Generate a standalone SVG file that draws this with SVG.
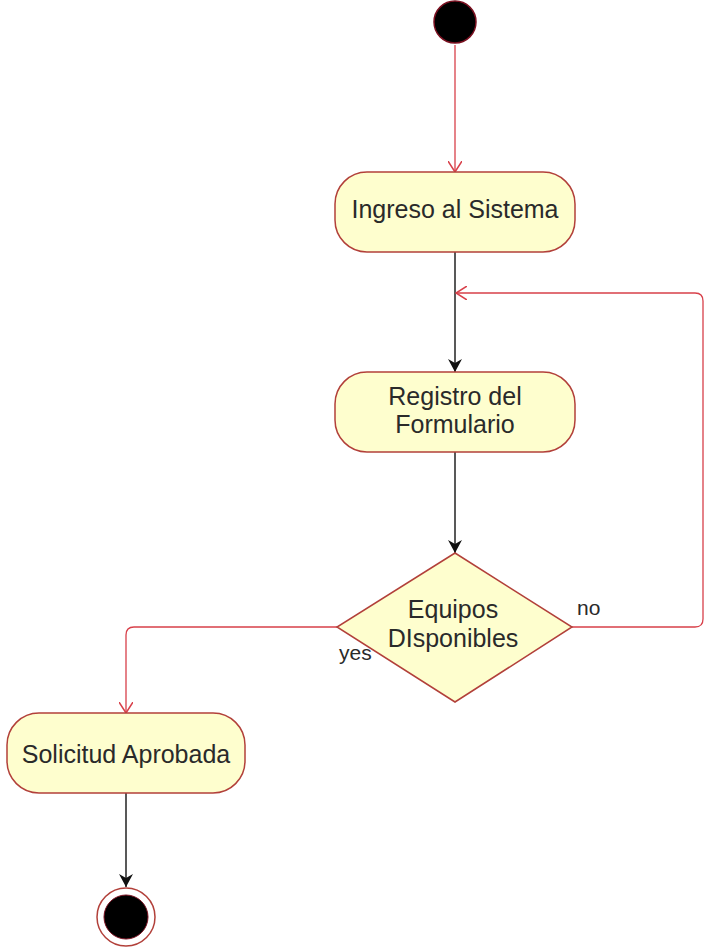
<svg xmlns="http://www.w3.org/2000/svg" width="705" height="951" viewBox="0 0 705 951">
<style>
.node{fill:#fefece;stroke:#b2403a;stroke-width:1.5}
.t{font-family:"Liberation Sans",Arial,sans-serif;font-size:25px;fill:#2a2a2a;text-anchor:middle}
.lbl{font-family:"Liberation Sans",Arial,sans-serif;font-size:21px;fill:#2a2a2a}
.red{fill:none;stroke:#d8404a;stroke-width:1.3}
.blk{fill:none;stroke:#222;stroke-width:1.5}
</style>
<defs>
<marker id="open" markerWidth="12" markerHeight="14" refX="11" refY="7" orient="auto" markerUnits="userSpaceOnUse">
<path d="M0,0 L11,7 L0,14" fill="none" stroke="#d8404a" stroke-width="1.5"/>
</marker>
<marker id="fill" markerWidth="14" markerHeight="14" refX="13" refY="7" orient="auto" markerUnits="userSpaceOnUse">
<path d="M0,0 L13,7 L0,14 L4,7 Z" fill="#111"/>
</marker>
</defs>
<g id="connectors">
<line class="red" x1="455" y1="45" x2="455" y2="172" marker-end="url(#open)"/>
<line class="blk" x1="455" y1="252" x2="455" y2="372" marker-end="url(#fill)"/>
<line class="blk" x1="455" y1="452" x2="455" y2="553" marker-end="url(#fill)"/>
<path class="red" d="M572,627 H695 Q703,627 703,619 V301 Q703,293 695,293 H456" marker-end="url(#open)"/>
<path class="red" d="M337,627 H134 Q126,627 126,635 V713" marker-end="url(#open)"/>
<line class="blk" x1="126" y1="793" x2="126" y2="887" marker-end="url(#fill)"/>
<text class="lbl" x="577" y="615">no</text>
<text class="lbl" x="339" y="660">yes</text>
</g>
<g id="start">
<circle cx="455" cy="22" r="21" fill="#000" stroke="#7a1020" stroke-width="1.5"/>
</g>
<g id="ingreso">
<rect class="node" x="335" y="172" width="240" height="80" rx="32"/>
<text class="t" x="455" y="218">Ingreso al Sistema</text>
</g>
<g id="registro">
<rect class="node" x="335" y="372" width="240" height="80" rx="32"/>
<text class="t" x="455" y="405">Registro del</text>
<text class="t" x="455" y="433">Formulario</text>
</g>
<g id="decision">
<polygon class="node" points="455,553 572,627 455,702 337,627"/>
<text class="t" x="453" y="618">Equipos</text>
<text class="t" x="453" y="647">DIsponibles</text>
</g>
<g id="solicitud">
<rect class="node" x="7" y="713" width="238" height="80" rx="32"/>
<text class="t" x="126" y="763">Solicitud Aprobada</text>
</g>
<g id="end">
<circle cx="126" cy="917" r="29" fill="#fff" stroke="#b2403a" stroke-width="1.5"/>
<circle cx="126" cy="917" r="22" fill="#000" stroke="#7a1020" stroke-width="1"/>
</g>
</svg>
